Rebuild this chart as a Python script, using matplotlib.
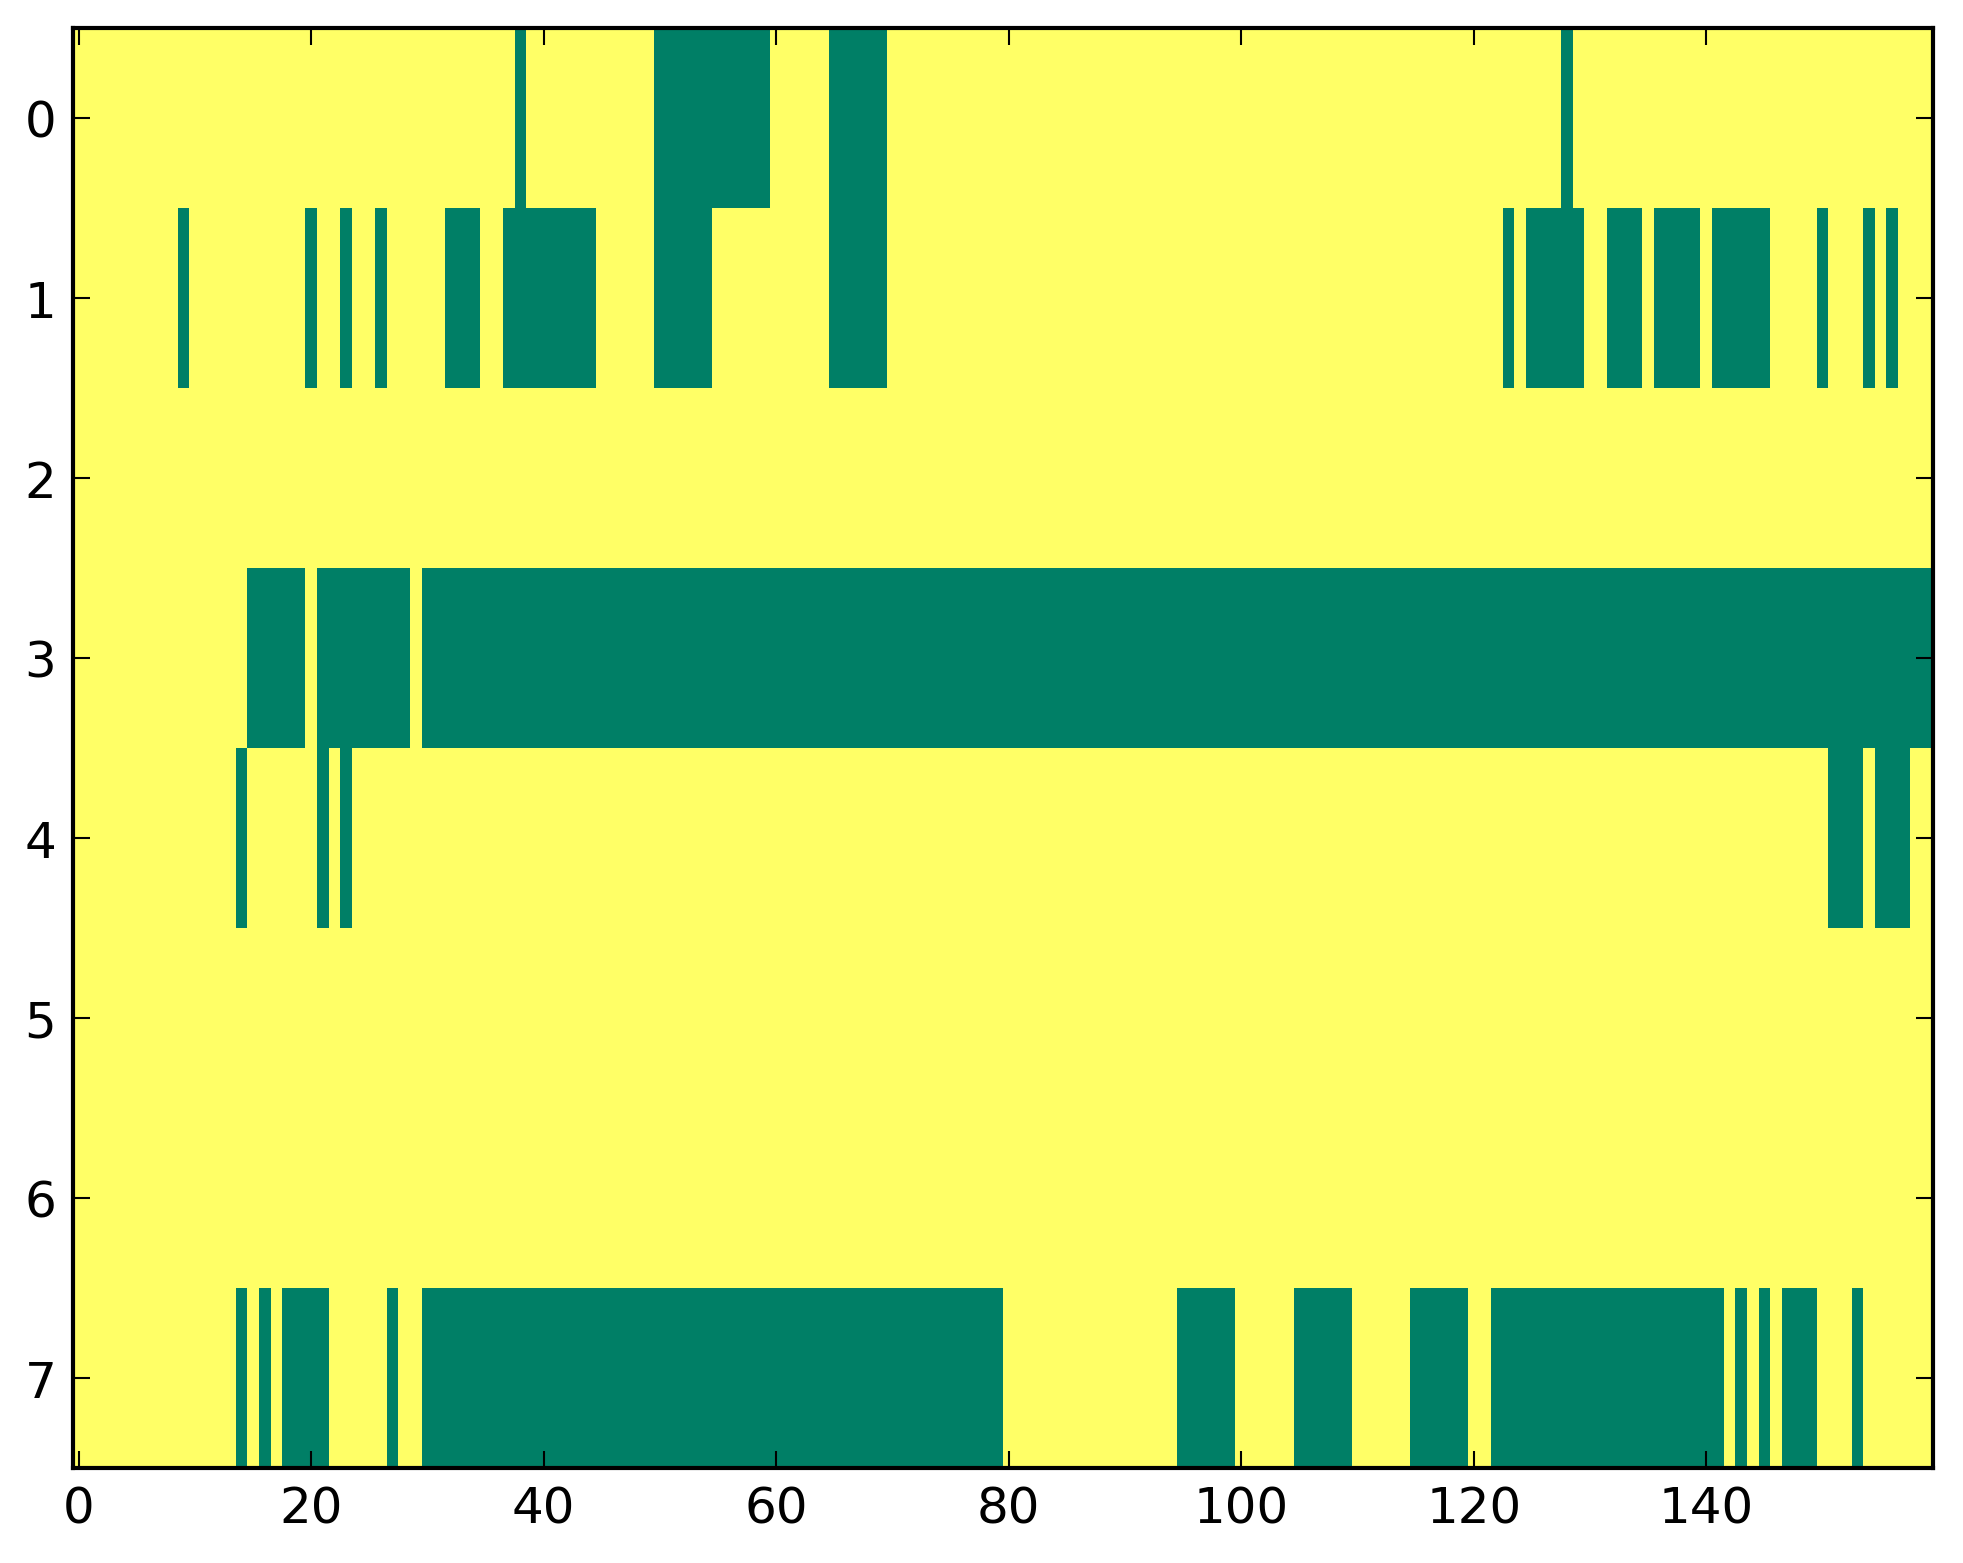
import numpy as np
import matplotlib
matplotlib.use("Agg")
import matplotlib.pyplot as plt

n_cols = 160
row_labels = [0, 1, 2, 3, 4, 5, 6, 7]
x_ticks = [0, 20, 40, 60, 80, 100, 120, 140]

# green (value 0) runs per row, inclusive column ranges; everything else is 1 (yellow)
runs_row0 = [(38, 38), (50, 59), (65, 69), (128, 128)]
runs_row1 = [(9, 9), (20, 20), (23, 23), (26, 26), (32, 34), (37, 44), (50, 54),
             (65, 69), (123, 123), (125, 129), (132, 134), (136, 139), (141, 145),
             (150, 150), (154, 154), (156, 156)]
runs_row2 = []
runs_row3 = [(15, 19), (21, 28), (30, 159)]
runs_row4 = [(14, 14), (21, 21), (23, 23), (151, 153), (155, 157)]
runs_row5 = []
runs_row6 = []
runs_row7 = [(14, 14), (16, 16), (18, 21), (27, 27), (30, 79), (95, 99), (105, 109),
             (115, 119), (122, 141), (143, 143), (145, 145), (147, 149), (153, 153)]

all_runs = [runs_row0, runs_row1, runs_row2, runs_row3,
            runs_row4, runs_row5, runs_row6, runs_row7]

data = np.ones((len(all_runs), n_cols))
for r, runs in enumerate(all_runs):
    for a, b in runs:
        data[r, a:b + 1] = 0

plt.rcParams['font.family'] = ['DejaVu Sans']
fig = plt.figure(figsize=(1963 / 300, 1564 / 300), dpi=300)
ax = fig.add_axes([73 / 1963, 1 - 1469 / 1564, (1933 - 73) / 1963, (1469 - 29) / 1564])
ax.imshow(data, cmap='summer', interpolation='nearest', aspect='auto', vmin=0, vmax=1)
ax.set_xticks(x_ticks)
ax.set_yticks(row_labels)
ax.tick_params(direction='in', top=True, right=True, length=4, width=0.5,
               labelsize=12, pad=4)
for s in ax.spines.values():
    s.set_linewidth(1.0)
fig.savefig("out.png", dpi=300)
